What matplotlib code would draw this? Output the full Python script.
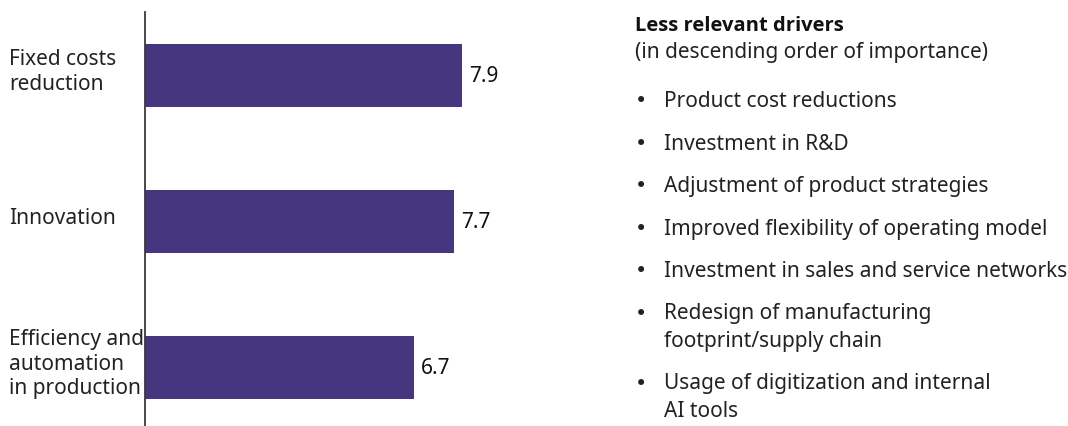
import matplotlib
matplotlib.use("Agg")
import matplotlib.pyplot as plt
import matplotlib.transforms as mtransforms

plt.rcParams['font.family'] = ['Noto Sans', 'DejaVu Sans']

# Top drivers with their importance score
drivers = ['Fixed costs\nreduction', 'Innovation', 'Efficiency and\nautomation\nin production']
scores = [7.9, 7.7, 6.7]

# Remaining drivers, listed on the right side
panel_title = 'Less relevant drivers'
panel_subtitle = '(in descending order of importance)'
less_relevant = [
    'Product cost reductions',
    'Investment in R&D',
    'Adjustment of product strategies',
    'Improved flexibility of operating model',
    'Investment in sales and service networks',
    'Redesign of manufacturing\nfootprint/supply chain',
    'Usage of digitization and internal\nAI tools',
]

bar_color = '#46357f'
text_color = '#222222'
fs = 15

W, H = 1068, 427
fig = plt.figure(figsize=(W / 100, H / 100), dpi=100)

# axes box in pixels: left edge is the vertical baseline line
ax_left, ax_right, ax_top, ax_bottom = 145, 545, 13, 427
ax = fig.add_axes([ax_left / W, 1 - ax_bottom / H,
                   (ax_right - ax_left) / W, (ax_bottom - ax_top) / H])

ypos = list(range(len(drivers)))
ax.barh(ypos, scores, height=0.432, color=bar_color, zorder=2)
ax.set_xlim(0, (ax_right - ax_left) / 40.15)
ax.set_ylim(2.4, -0.435)

for s in ['top', 'right', 'bottom']:
    ax.spines[s].set_visible(False)
ax.spines['left'].set_color('#3a3a3a')
ax.spines['left'].set_linewidth(1.3)
ax.set_xticks([])
ax.set_yticks([])

# value labels at the end of each bar
for y, v in zip(ypos, scores):
    ax.annotate(f'{v:.1f}', xy=(v, y), xytext=(5, 0), textcoords='offset points',
                va='center', ha='left', fontsize=fs, color='#111111')

# category labels, left aligned at the figure edge
lab_trans = mtransforms.blended_transform_factory(fig.transFigure, ax.transData)
for y, name in zip(ypos, drivers):
    ax.text(9 / W, y - 0.03, name, transform=lab_trans, ha='left', va='center',
            fontsize=fs, color=text_color, linespacing=1.22)

# right-hand list of less relevant drivers
def fy(px):
    return 1 - px / H

line_step = 27
fig.text(635 / W, fy(31), panel_title, fontsize=14.5, fontweight='bold',
         family=['Open Sans', 'DejaVu Sans'],
         color='#111111', va='baseline', ha='left')
fig.text(635 / W, fy(58), panel_subtitle, fontsize=fs,
         color=text_color, va='baseline', ha='left')

y = 107
for item in less_relevant:
    extra = item.count('\n')
    fig.text(635 / W, fy(y), '•', fontsize=fs, family='DejaVu Sans',
             color=text_color, va='baseline', ha='left')
    # multi-line text is anchored on its last baseline
    fig.text(664 / W, fy(y + line_step * extra), item, fontsize=fs, color=text_color,
             va='baseline', ha='left', linespacing=1.42)
    y += 42.6 + line_step * extra

fig.savefig('out.png', dpi=100)
